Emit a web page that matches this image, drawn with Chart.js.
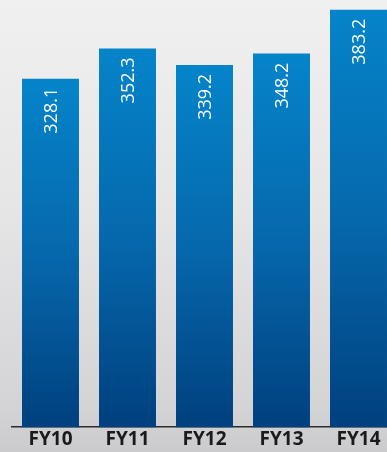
<!DOCTYPE html>
<html>
<head>
<meta charset="utf-8">
<script src="https://cdn.jsdelivr.net/npm/chart.js@4"></script>
<style>
  html, body { margin: 0; padding: 0; overflow: hidden; }
  body {
    width: 387px; height: 452px;
    background: linear-gradient(to bottom, #f0f0f0 0%, #e6e6e7 45%, #d4d4d7 90%, #cbcbce 100%);
  }
  #wrap { position: relative; width: 397px; height: 452px; }
  canvas { display: block; }
</style>
</head>
<body>
<div id="wrap"><canvas id="barChart" width="397" height="452"></canvas></div>
<script>
var years = ['FY10', 'FY11', 'FY12', 'FY13', 'FY14'];
var revenue = [328.1, 352.3, 339.2, 348.2, 383.2];

// each bar gets its own top-to-bottom blue fade
function barFill(context) {
    var chart = context.chart;
    var area = chart.chartArea;
    if (!area || context.parsed == null) return '#0a6fb5';
    var top = chart.scales.y.getPixelForValue(context.parsed.y);
    var g = chart.ctx.createLinearGradient(0, top, 0, area.bottom);
    g.addColorStop(0, '#0584ca');
    g.addColorStop(0.5, '#0668ac');
    g.addColorStop(1, '#00407e');
    return g;
}

// value written sideways just under the top of each bar
var barValues = {
    id: 'barValues',
    afterDatasetsDraw: function(chart) {
        var ctx = chart.ctx;
        var meta = chart.getDatasetMeta(0);
        ctx.save();
        ctx.fillStyle = '#ffffff';
        ctx.font = '18px "Open Sans"';
        ctx.textAlign = 'right';
        ctx.textBaseline = 'middle';
        meta.data.forEach(function(bar, i) {
            ctx.save();
            ctx.translate(bar.x, bar.y + 9);
            ctx.rotate(-Math.PI / 2);
            ctx.fillText(revenue[i].toFixed(1), 0, 1);
            ctx.restore();
        });
        ctx.restore();
    }
};

var ctx = document.getElementById('barChart').getContext('2d');
var barChart = new Chart(ctx, {
    type: 'bar',
    data: {
        labels: years,
        datasets: [{
            data: revenue,
            backgroundColor: barFill,
            borderWidth: 0,
            barPercentage: 0.74,
            categoryPercentage: 1
        }]
    },
    options: {
        responsive: false,
        animation: false,
        devicePixelRatio: 1,
        layout: { padding: { left: 12, right: 0, top: 0, bottom: 0 } },
        plugins: {
            legend: { display: false },
            tooltip: { enabled: false }
        },
        scales: {
            x: {
                grid: { display: false, drawTicks: false },
                border: { display: true, color: '#2a2a2a', width: 1.5 },
                ticks: {
                    color: '#1a1a1a',
                    font: { family: 'Open Sans', size: 19, weight: 'bold' },
                    padding: 1
                }
            },
            y: {
                display: false,
                min: 50,
                max: 391
            }
        }
    },
    plugins: [barValues]
});
</script>
</body>
</html>
